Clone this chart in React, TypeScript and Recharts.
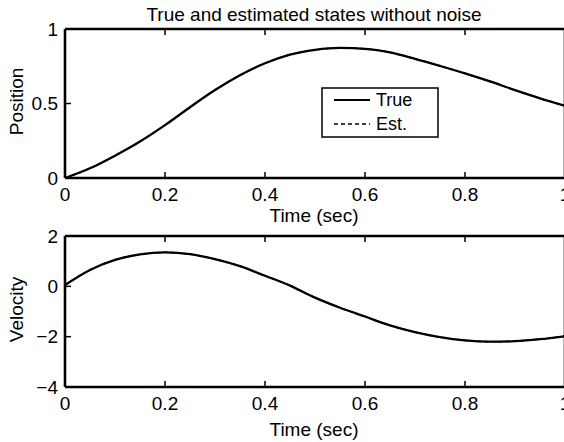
import React from "react";
import { LineChart, Line, XAxis, YAxis, Legend, Label } from "recharts";

// time axis (sec)
const time = [0, 0.05, 0.1, 0.15, 0.2, 0.25, 0.3, 0.35, 0.4, 0.45, 0.5, 0.55, 0.6, 0.65, 0.7, 0.75, 0.8, 0.85, 0.9, 0.95, 1];
// true states; estimates coincide (no noise)
const truePosition = [0, 0.065, 0.15, 0.245, 0.355, 0.475, 0.59, 0.69, 0.77, 0.828, 0.86, 0.873, 0.867, 0.843, 0.8, 0.752, 0.702, 0.648, 0.59, 0.535, 0.485];
const trueVelocity = [0.05, 0.65, 1.05, 1.27, 1.35, 1.28, 1.08, 0.8, 0.42, 0.03, -0.45, -0.85, -1.2, -1.55, -1.82, -2.02, -2.15, -2.2, -2.18, -2.1, -1.98];
const estPosition = truePosition;
const estVelocity = trueVelocity;

const timeTicks = [0, 0.2, 0.4, 0.6, 0.8, 1];
const positionTicks = [0, 0.5, 1];
const velocityTicks = [-4, -2, 0, 2];
const legendOrder = ["True", "Est."];

const posData = time.map((t, i) => ({ t, tru: truePosition[i], est: estPosition[i] }));
const velData = time.map((t, i) => ({ t, tru: trueVelocity[i], est: estVelocity[i] }));

const FONT = '"Liberation Sans", Arial, Helvetica, sans-serif';
const tickStyle = { fill: "#000", fontSize: 19, fontFamily: FONT };
const fmt = (v: number) => String(v).replace("-", "\u2212");

function YLabel({ text }: { text: string }) {
  return (props: any) => {
    const vb = props.viewBox || { x: 0, y: 0, width: 0, height: 0 };
    const cy = vb.y + vb.height / 2 - 2;
    return (
      <text x={23} y={cy} transform={`rotate(-90, 23, ${cy})`} textAnchor="middle"
        fill="#000" fontSize={19} fontFamily={FONT}>{text}</text>
    );
  };
}

function XText(text: string, dy: number, size = 19) {
  return (props: any) => {
    const vb = props.viewBox || { x: 0, y: 0, width: 0, height: 0 };
    return (
      <text x={vb.x + vb.width / 2 - 1} y={vb.y + dy} textAnchor="middle"
        fill="#000" fontSize={size} fontFamily={FONT}>{text}</text>
    );
  };
}

function LegendBox(props: any) {
  const items = [...(props.payload || [])].sort(
    (a: any, b: any) => legendOrder.indexOf(a.value) - legendOrder.indexOf(b.value)
  );
  return (
    <svg width={118} height={51} style={{ display: "block" }}>
      <rect x={1} y={1} width={116} height={49} fill="#fff" stroke="#000" strokeWidth={1.5} />
      {items.map((it: any, i: number) => {
        const y = 13 + i * 24;
        return (
          <g key={i}>
            <line x1={13} x2={49} y1={y} y2={y} stroke="#000" strokeWidth={i === 0 ? 1.8 : 1.5}
              strokeDasharray={it.payload?.strokeDasharray} />
            <text x={55} y={y + 6} fontSize={18} fontFamily={FONT} fill="#000">{it.value}</text>
          </g>
        );
      })}
    </svg>
  );
}

const axisLine = { stroke: "#000", strokeWidth: 2.6 };
const tickLine = { stroke: "#000", strokeWidth: 1.5 };

export default function App() {
  return (
    <div style={{ position: "absolute", left: 0, top: 0, width: 564, height: 442, overflow: "hidden", background: "#fff" }}>
      <div style={{ position: "absolute", left: 0, top: 0 }}>
        <LineChart width={575} height={230} data={posData} margin={{ top: 0, right: 0, bottom: 0, left: 0 }}>
          <XAxis xAxisId="b" dataKey="t" type="number" domain={[0, 1]} ticks={timeTicks} interval={0}
            height={52} axisLine={axisLine} tickLine={tickLine} tickSize={-6} tickMargin={15.5}
            tick={tickStyle} tickFormatter={fmt}>
            <Label content={XText("Time (sec)", 44)} />
          </XAxis>
          <XAxis xAxisId="t" orientation="top" dataKey="t" type="number" domain={[0, 1]} ticks={timeTicks}
            interval={0} height={29} axisLine={axisLine} tickLine={tickLine} tickSize={-6} tickFormatter={() => ""}>
            <Label content={XText("True and estimated states without noise", 21)} />
          </XAxis>
          <YAxis yAxisId="l" domain={[0, 1]} ticks={positionTicks} interval={0} width={65}
            axisLine={axisLine} tickLine={tickLine} tickSize={-6} tickMargin={13} tick={tickStyle} tickFormatter={fmt}>
            <Label content={YLabel({ text: "Position" })} />
          </YAxis>
          <YAxis yAxisId="r" orientation="right" domain={[0, 1]} ticks={positionTicks} interval={0} width={10}
            axisLine={axisLine} tickLine={tickLine} tickSize={-6} tickFormatter={() => ""} />
          <Legend layout="vertical" align="center" verticalAlign="middle" content={LegendBox}
            wrapperStyle={{ left: 321, top: 87, width: 118, height: 51 }} />
          <Line xAxisId="b" yAxisId="l" dataKey="tru" name="True" type="monotone" stroke="#000" strokeWidth={2.3}
            dot={false} isAnimationActive={false} />
          <Line xAxisId="b" yAxisId="l" dataKey="est" name="Est." type="monotone" stroke="#000" strokeWidth={1.5}
            strokeDasharray="4 3" dot={false} isAnimationActive={false} />
        </LineChart>
      </div>
      <div style={{ position: "absolute", left: 0, top: 207 }}>
        <LineChart width={575} height={235} data={velData} margin={{ top: 0, right: 0, bottom: 0, left: 0 }}>
          <XAxis xAxisId="b" dataKey="t" type="number" domain={[0, 1]} ticks={timeTicks} interval={0}
            height={55} axisLine={axisLine} tickLine={tickLine} tickSize={-6} tickMargin={15.5}
            tick={tickStyle} tickFormatter={fmt}>
            <Label content={XText("Time (sec)", 49)} />
          </XAxis>
          <XAxis xAxisId="t" orientation="top" dataKey="t" type="number" domain={[0, 1]} ticks={timeTicks}
            interval={0} height={29} axisLine={axisLine} tickLine={tickLine} tickSize={-6} tickFormatter={() => ""} />
          <YAxis yAxisId="l" domain={[-4, 2]} ticks={velocityTicks} interval={0} width={65}
            axisLine={axisLine} tickLine={tickLine} tickSize={-6} tickMargin={13} tick={tickStyle} tickFormatter={fmt}>
            <Label content={YLabel({ text: "Velocity" })} />
          </YAxis>
          <YAxis yAxisId="r" orientation="right" domain={[-4, 2]} ticks={velocityTicks} interval={0} width={10}
            axisLine={axisLine} tickLine={tickLine} tickSize={-6} tickFormatter={() => ""} />
          <Line xAxisId="b" yAxisId="l" dataKey="tru" name="True" type="monotone" stroke="#000" strokeWidth={2.3}
            dot={false} isAnimationActive={false} />
          <Line xAxisId="b" yAxisId="l" dataKey="est" name="Est." type="monotone" stroke="#000" strokeWidth={1.5}
            strokeDasharray="4 3" dot={false} isAnimationActive={false} />
        </LineChart>
      </div>
    </div>
  );
}
